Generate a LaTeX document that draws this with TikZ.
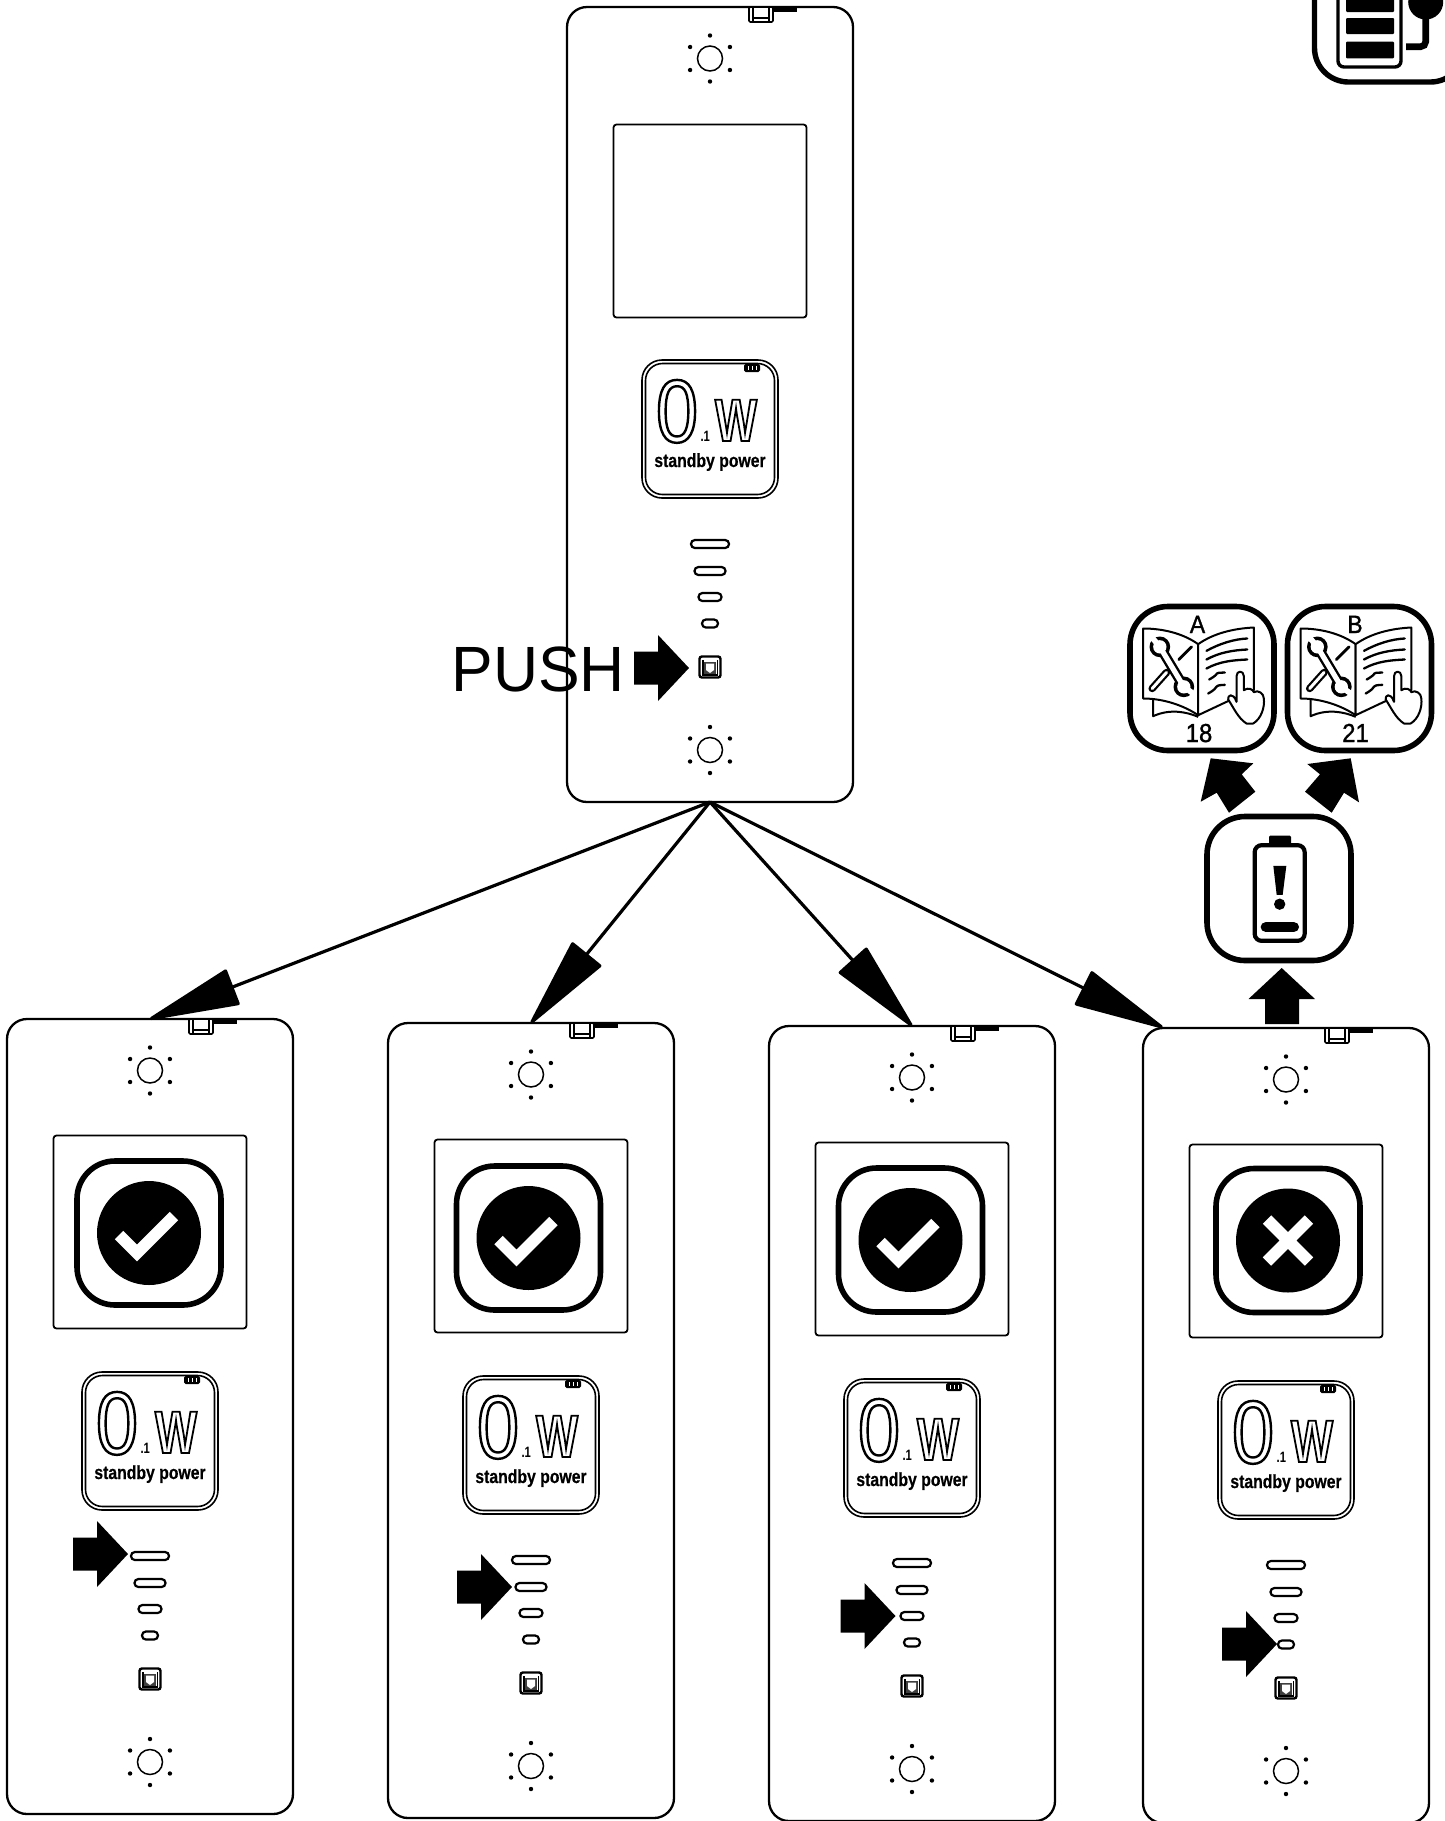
\documentclass[tikz,border=0pt]{standalone}
\usepackage{fontspec}
\setmainfont{Liberation Sans}
\newfontfamily\zerofont[FakeStretch=0.85]{Liberation Sans}
\newfontfamily\wattfont[FakeStretch=0.74]{Liberation Sans Bold}
\newfontfamily\standbyfont[FakeStretch=0.83,FakeBold=0.5]{Liberation Sans Bold}
\newfontfamily\tenthfont[FakeStretch=0.75]{Liberation Sans Bold}
\newfontfamily\iconfont[FakeStretch=0.92,FakeBold=1.2]{Liberation Sans}
\newfontfamily\pushfont[FakeStretch=0.975]{Liberation Sans}
\usetikzlibrary{arrows.meta}
\newcommand{\outlinetext}[2]{\special{pdf:code 1 Tr #1 w}#2\special{pdf:code 0 Tr 1 w}}
\tikzset{
  x=0.5pt,y=-0.5pt,
  panelbox/.style={draw=black,fill=white,line width=1.15pt,rounded corners=10pt,minimum width=143pt,minimum height=397.5pt,inner sep=0pt,outer sep=0pt},
  screenbox/.style={draw=black,fill=white,line width=0.9pt,rounded corners=1.5pt,minimum width=96.5pt,minimum height=96.5pt,inner sep=0pt,outer sep=0pt},
  iconbox/.style={draw=black,fill=white,line width=2.8pt,rounded corners=19pt,minimum width=72pt,minimum height=72pt,inner sep=0pt,outer sep=0pt},
  conn/.style={line width=1.6pt,draw=black,-{Triangle[length=48pt,width=19pt,round]}},
  barline/.style={draw=black,fill=white,line width=1.1pt,rounded corners=1.95pt},
}
\newcommand{\sunmark}[2]{\begin{scope}[shift={(#1,#2)}]
    \draw[line width=0.75pt] (0,0) circle (12.5);
    \foreach \a in {30,90,150,210,270,330}{\fill (\a:23) circle (2.2);}
\end{scope}}
\newcommand{\clipmark}{
    \fill (39,0) rectangle (87,4.5);
    \draw[line width=0.8pt,rounded corners=0.6pt,fill=white] (39,0) rectangle (63,15);
    \draw[line width=0.7pt] (43,0) -- (43,15) (59,0) -- (59,15) (43,11) -- (59,11);
}
\newcommand{\badgemark}[3]{\begin{scope}[shift={(#2,#3)}]
    \draw[line width=0.8pt,fill=white,rounded corners=10pt] (-68,-69) rectangle (68,69);
    \draw[line width=0.8pt,rounded corners=8.5pt] (-64.5,-65.5) rectangle (64.5,65.5);
    \fill[rounded corners=0.8pt] (34,-65) rectangle (50,-57);
    \draw[white,line width=0.35pt] (38,-63) -- (38,-59) (42,-63) -- (42,-59) (46,-63) -- (46,-59);
    \node[anchor=base,inner sep=0pt] (#1zero) at (-33,13) {\fontsize{44.5pt}{44.5pt}\zerofont\outlinetext{1.2}{0}};
    \node[anchor=base,inner sep=0pt] (#1watt) at (26,12) {\fontsize{30pt}{30pt}\wattfont\outlinetext{0.9}{W}};
    \node[anchor=base,inner sep=0pt] (#1tenth) at (-4.7,12) {\fontsize{7.5pt}{7.5pt}\tenthfont .1};
    \node[anchor=base,inner sep=0pt] (#1stby) at (0,38) {\fontsize{9.5pt}{9.5pt}\standbyfont standby power};
\end{scope}}
\newcommand{\keypad}[2]{\begin{scope}[shift={(#1,#2)}]
    \draw[line width=1.2pt,fill=white,rounded corners=1.2pt] (-10.5,-10.5) rectangle (10.5,10.5);
    \fill[black!75] (-6,-5) rectangle (6,7);
    \draw[line width=0.7pt] (-7.2,-7) -- (-7.2,8) -- (7.2,8) -- (7.2,-7);
    \fill[white] (-4,-3.5) -- (4,-3.5) -- (4,3) -- (0,6) -- (-4,3) -- cycle;
\end{scope}}
\newcommand{\unitparts}[3]{\begin{scope}[shift={(#2,#3)}]
    \sunmark{0}{51.5}
    \clipmark
    \badgemark{#1}{0}{422}
    \foreach \yy/\hw in {537/19,564/15.5,590/11.5,616.5/8}{
      \draw[barline] (-\hw,\yy-4) rectangle (\hw,\yy+4);
    }
    \keypad{0}{660}
    \sunmark{0}{743}
\end{scope}}
\newcommand{\fatright}[2]{\begin{scope}[shift={(#1,#2)}]
    \fill (0,0) -- (-31,-33) -- (-31,-16.5) -- (-55,-16.5) -- (-55,16.5) -- (-31,16.5) -- (-31,33) -- cycle;
\end{scope}}
\newcommand{\okmark}[1]{\begin{scope}[shift={(#1)}]
    \fill (0,0) circle (52);
    \draw[white,line width=5.9pt,miter limit=10] (-30,2) -- (-12,20) -- (25,-17);
\end{scope}}
\newcommand{\nomark}[1]{\begin{scope}[shift={(#1)}]
    \fill (0,0) circle (52);
    \draw[white,line width=5.9pt] (-21,-21) -- (21,21) (-21,21) -- (21,-21);
\end{scope}}
\newcommand{\bookart}[1]{\begin{scope}[shift={(#1)},x=0.16667pt,y=-0.16667pt,shift={(-276.5,-265)}]
      \draw[line width=1pt,line join=round] (130,325) -- (130,378) .. controls (180,355) and (230,365) .. (265,380);
      \draw[line width=1pt,line join=round,fill=white] (265,162) .. controls (220,130) and (160,115) .. (100,115) -- (100,325) .. controls (160,325) and (220,345) .. (265,375) -- cycle;
      \draw[line width=1pt,line join=round,fill=white] (265,162) .. controls (310,130) and (370,115) .. (432,112) -- (432,300) -- (350,335) -- (265,375) -- cycle;
      \foreach \x/\y/\u/\v in {290/182/412/145,290/208/412/178,290/235/412/208,298/268/345/247,295/310/345/284}{
        \draw[line width=1.15pt,line cap=round] (\x,\y) .. controls (\x+40,\y-22) and (\u-40,\v+2) .. (\u,\v);
      }
      \draw[line width=1.4pt,line cap=round] (245,170) -- (207,208);
      \draw[line width=3.7pt,line cap=round] (170,247) -- (127,295);
      \draw[white,line width=1.5pt,line cap=round] (170,247) -- (127,295);
      \draw[line width=5pt] (150,170) -- (222,290);
      \fill (150,170) circle (31) (222,290) circle (31);
      \draw[white,line width=2.6pt] (150,170) -- (222,290);
      \fill[white] (150,170) circle (20) (222,290) circle (20);
      \draw[white,line width=2.8pt] (150,170) -- (125,140) (222,290) -- (250,310);
      \draw[line width=1pt,line join=round,fill=white] (380,335) -- (380,258) .. controls (380,240) and (402,240) .. (402,258) -- (402,300)
        .. controls (415,290) and (430,298) .. (432,306) .. controls (445,298) and (462,310) .. (462,325)
        .. controls (465,350) and (455,385) .. (430,400) -- (410,400) .. controls (385,385) and (370,350) .. (355,328)
        .. controls (352,315) and (370,305) .. (380,335) -- cycle;
\end{scope}}
\begin{document}
\begin{tikzpicture}
  \path[use as bounding box] (0,0) rectangle (1445,1821);
  \clip (0,0) rectangle (1445,1821);
  \fill[white] (0,0) rectangle (1445,1821);

  % panels
  \node[panelbox,anchor=north] (top) at (710,7) {};
  \node[panelbox,anchor=north] (p1) at (150,1019) {};
  \node[panelbox,anchor=north] (p2) at (531,1023) {};
  \node[panelbox,anchor=north] (p3) at (912,1026) {};
  \node[panelbox,anchor=north] (p4) at (1286,1028) {};
  \coordinate (p4tip) at (1162.7,1027.5);

  % screens
  \node[screenbox] (s0) at (710,221) {};
  \node[screenbox] (s1) at (150,1232) {};
  \node[screenbox] (s2) at (531,1236) {};
  \node[screenbox] (s3) at (912,1239) {};
  \node[screenbox] (s4) at (1286,1241) {};

  % panel contents
  \unitparts{u0}{710}{7}
  \unitparts{u1}{150}{1019}
  \unitparts{u2}{531}{1023}
  \unitparts{u3}{912}{1026}
  \unitparts{u4}{1286}{1028}

  % status icons
  \node[iconbox] (i1) at (149,1233) {};
  \node[iconbox] (i2) at (528.5,1238) {};
  \node[iconbox] (i3) at (910.5,1240) {};
  \node[iconbox] (i4) at (1288,1240.5) {};
  \okmark{i1}
  \okmark{i2}
  \okmark{i3}
  \nomark{i4}

  % connectors
  \draw[conn] (top.south) -- (p1.north);
  \draw[conn] (top.south) -- (p2.north);
  \draw[conn] (top.south) -- (p3.north);
  \draw[conn] (top.south) -- (p4tip);

  % push
  \node[anchor=base west,inner sep=0pt] (pushlabel) at (451,691) {\fontsize{32pt}{32pt}\pushfont PUSH};
  \fatright{689}{668}

  % level arrows
  \fatright{128}{1554}
  \fatright{512}{1587}
  \fatright{895.5}{1616}
  \fatright{1277}{1644}

  % battery warning button
  \node[iconbox] (batt) at (1279,888.5) {};
  \begin{scope}[shift={(batt)},x=0.16667pt,y=-0.16667pt,shift={(-507,-896)}]
    \fill[rounded corners=0.7pt] (477,737) rectangle (543,764);
    \draw[line width=2.1pt,rounded corners=3.5pt] (434,766) rectangle (584,1053);
    \fill (490,828) -- (529,828) -- (518,915) -- (500,915) -- cycle;
    \fill (509,943) circle (17);
    \fill[rounded corners=2.4pt] (452,997) rectangle (567,1026);
  \end{scope}

  % manual buttons
  \node[iconbox] (bookA) at (1202,678.5) {};
  \node[iconbox] (bookB) at (1359.5,678.5) {};
  \bookart{bookA}
  \bookart{bookB}
  \node[inner sep=0pt,anchor=base] (la) at (1197.5,633) {\fontsize{12.5pt}{12.5pt}\iconfont A};
  \node[inner sep=0pt,anchor=base] (lb) at (1355,633) {\fontsize{12.5pt}{12.5pt}\iconfont B};
  \node[inner sep=0pt,anchor=base] (na) at (1199,742) {\fontsize{13pt}{13pt}\iconfont 18};
  \node[inner sep=0pt,anchor=base] (nb) at (1355.5,742) {\fontsize{13pt}{13pt}\iconfont 21};

  % block arrows between buttons
  \fill (1281.7,968) -- (1315,999) -- (1299,999) -- (1299,1024) -- (1265,1024) -- (1265,999) -- (1248.5,999) -- cycle;
  \fill (1210.7,758.3) -- (1253.3,763.3) -- (1241.7,774.3) -- (1255.3,791.7) -- (1229,812.7) -- (1216.7,792.7) -- (1200.7,801.7) -- cycle;
  \fill (1350.7,758.3) -- (1307.3,764) -- (1320,774.3) -- (1305,791.7) -- (1331.7,812.7) -- (1344,792.7) -- (1359,802.3) -- cycle;

  % battery icon, top right corner
  \node[draw=black,line width=2.7pt,rounded corners=17pt,minimum width=75pt,minimum height=75pt,inner sep=0pt,outer sep=0pt,anchor=south west] (chg) at (1314.5,82) {};
  \draw[line width=1.7pt,rounded corners=3pt] (1338,-20) rectangle (1401,67);
  \foreach \ya/\yb in {-10/12,18/34,41.7/58.3}{
    \fill[rounded corners=0.5pt] (1346,\ya) rectangle (1394,\yb);
  }
  \fill (1425.7,2) circle (17.5);
  \draw[line width=3.3pt,rounded corners=2.5pt] (1425.7,15) -- (1425.7,46.7) -- (1406,46.7);
\end{tikzpicture}
\end{document}
